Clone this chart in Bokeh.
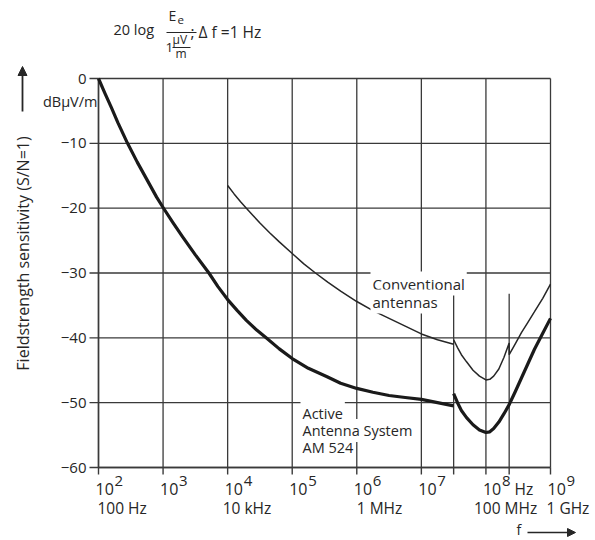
import math
from bokeh.plotting import figure
from bokeh.models import ColumnDataSource, Label, Arrow, NormalHead, Range1d
from bokeh.core.properties import value
from bokeh.embed import file_html
from bokeh.resources import INLINE

# ---------------- data (x given as log10 of frequency in Hz) ----------------
decade_exps = [2, 3, 4, 5, 6, 7, 8, 9]
band_marks_logf = [7.5, 8.36]          # extra boundary marks (about 30 MHz and 230 MHz)
band_mark_top_db = -33.2
y_ticks = [0, -10, -20, -30, -40, -50, -60]
y_tick_labels = ["0", "−10", "−20", "−30", "−40", "−50", "−60"]
unit_labels = ["100 Hz", "10 kHz", "1 MHz", "100 MHz", "1 GHz"]
unit_label_exps = [2, 4, 6, 8, 9]

active_logf_1 = [2.0, 2.1, 2.2, 2.3, 2.45, 2.6, 2.75, 2.9, 3.0, 3.15, 3.3, 3.5, 3.71,
                 3.85, 4.0, 4.15, 4.29, 4.45, 4.61, 4.8, 5.0, 5.25, 5.54, 5.75, 6.0,
                 6.25, 6.5, 6.75, 7.0, 7.25, 7.5]
active_db_1 = [0.0, -2.3, -4.5, -6.8, -10.0, -12.9, -15.6, -18.3, -19.9, -22.2, -24.4,
               -27.2, -30.0, -32.1, -34.1, -35.8, -37.3, -38.8, -40.1, -41.7, -43.2,
               -44.7, -46.0, -47.0, -47.8, -48.4, -48.9, -49.2, -49.5, -50.0, -50.5]
active_logf_2 = [7.5, 7.56, 7.62, 7.7, 7.8, 7.9, 8.0, 8.06, 8.12, 8.2, 8.28, 8.36,
                 8.45, 8.55, 8.65, 8.75, 8.88, 9.0]
active_db_2 = [-48.6, -50.0, -51.2, -52.3, -53.4, -54.2, -54.6, -54.5, -54.0, -53.0,
               -51.7, -50.3, -48.4, -46.2, -44.0, -41.8, -39.3, -37.0]

conv_logf_1 = [4.0, 4.1, 4.2, 4.29, 4.4, 4.5, 4.65, 4.8, 5.0, 5.18, 5.36, 5.55, 5.75,
               6.0, 6.25, 6.5, 6.75, 7.0, 7.25, 7.5]
conv_db_1 = [-16.5, -17.8, -19.0, -20.0, -21.2, -22.3, -23.8, -25.2, -27.0, -28.6,
             -30.0, -31.4, -32.8, -34.4, -35.8, -37.0, -38.2, -39.4, -40.3, -41.0]
conv_logf_2 = [7.5, 7.56, 7.62, 7.7, 7.8, 7.9, 8.0, 8.06, 8.12, 8.2, 8.28, 8.36, 8.36,
               8.45, 8.55, 8.65, 8.75, 8.88, 9.0]
conv_db_2 = [-40.3, -41.5, -42.6, -43.7, -45.0, -45.9, -46.5, -46.4, -45.9, -44.8,
             -43.0, -40.8, -42.6, -41.0, -39.2, -37.6, -36.0, -33.9, -31.7]

# ---------------- layout constants ----------------
W, H = 595, 540
INK = "#262626"
GRID = "#3a3a3a"
FONT = "Open Sans"
FL, FR, FT, FB = 98.0, 550.0, 78.0, 467.0   # plot-area edges in page pixels
DEC_PER_PX = 7.0 / (FR - FL)
DB_PER_PX = 60.0 / (FB - FT)

# the frame covers the whole page; the chart area is the 1e2..1e9 x -60..0 box in it
p = figure(width=W, height=H, x_axis_type="log",
           x_range=Range1d(10 ** (2 - FL * DEC_PER_PX), 10 ** (2 + (W - FL) * DEC_PER_PX)),
           y_range=Range1d(-(H - FT) * DB_PER_PX, FT * DB_PER_PX),
           x_axis_location=None, y_axis_location=None,
           output_backend="svg", toolbar_location=None, min_border=0,
           background_fill_color="white", border_fill_color="white")
p.outline_line_color = None
p.xgrid.visible = False
p.ygrid.visible = False


def dx(px):
    return 10.0 ** (2 + (px - FL) * DEC_PER_PX)


def dy(py):
    return -(py - FT) * DB_PER_PX


decades = [10.0 ** e for e in decade_exps]
marks = [10.0 ** e for e in band_marks_logf]
x_min, x_max = decades[0], decades[-1]
y_min, y_max = min(y_ticks), max(y_ticks)

# grid (also forms the top and right border)
p.segment(x0=decades, y0=[y_min] * len(decades), x1=decades, y1=[y_max] * len(decades),
          line_color=GRID, line_width=1.3)
p.segment(x0=[x_min] * len(y_ticks), y0=y_ticks, x1=[x_max] * len(y_ticks), y1=y_ticks,
          line_color=GRID, line_width=1.3)
# band boundary marks
p.segment(x0=marks, y0=[band_mark_top_db] * len(marks), x1=marks,
          y1=[y_min] * len(marks), line_color=GRID, line_width=1.3)

# axis lines and ticks
p.segment(x0=[x_min], y0=[y_min], x1=[x_min], y1=[y_max], line_color=GRID, line_width=1.5)
p.segment(x0=[x_min], y0=[y_min], x1=[x_max], y1=[y_min], line_color=GRID, line_width=1.5)
xt = decades + marks
p.segment(x0=xt, y0=[y_min] * len(xt), x1=xt, y1=[y_min - 7 * DB_PER_PX] * len(xt),
          line_color=GRID, line_width=1.4)
p.segment(x0=[x_min * 10 ** (-9 * DEC_PER_PX)] * len(y_ticks), y0=y_ticks,
          x1=[x_min] * len(y_ticks), y1=y_ticks, line_color=GRID, line_width=1.4)

# curves
p.line([10.0 ** v for v in conv_logf_1], conv_db_1, line_color=INK, line_width=1.5)
p.line([10.0 ** v for v in conv_logf_2], conv_db_2, line_color=INK, line_width=1.5)
p.line([10.0 ** v for v in active_logf_1], active_db_1, line_color="#1a1a1a",
       line_width=3.2, line_join="round")
p.line([10.0 ** v for v in active_logf_2], active_db_2, line_color="#1a1a1a",
       line_width=3.2, line_join="round")

# y tick labels
p.text(x=[x_min] * len(y_ticks), y=y_ticks, text=y_tick_labels, x_offset=-12,
       text_font=value(FONT), text_font_size="15px", text_color=INK,
       text_align="right", text_baseline="middle")

# x tick labels: "10" with raised exponent, and unit names
p.text(x=decades, y=[dy(488)] * len(decades), text=["10"] * len(decades), x_offset=-3,
       text_font=value(FONT), text_font_size="16px", text_color=INK,
       text_align="left", text_baseline="middle")
p.text(x=decades, y=[dy(480)] * len(decades), text=[str(e) for e in decade_exps],
       x_offset=16, text_font=value(FONT), text_font_size="15px", text_color=INK,
       text_align="left", text_baseline="middle")
unit_offsets = [-1, -5, 0, -12, -4]
unit_src = ColumnDataSource(dict(x=[10.0 ** e for e in unit_label_exps], t=unit_labels,
                                 o=unit_offsets))
p.text(x="x", y=dy(507), text="t", x_offset="o", source=unit_src,
       text_font=value(FONT), text_font_size="15.5px", text_color=INK,
       text_align="left", text_baseline="middle")


def lab(text, px, py, size=14, align="left", angle=0.0, bg=None):
    kw = dict(x=dx(px), y=dy(py), text=text, text_font=FONT,
              text_font_size=f"{size}px", text_color=INK,
              text_align=align, text_baseline="middle", angle=angle)
    if bg:
        kw.update(background_fill_color=bg, padding=2)
    p.add_layout(Label(**kw))


def hline(px0, px1, py, width=1.2, head=None):
    p.add_layout(Arrow(x_start=dx(px0), y_start=dy(py), x_end=dx(px1), y_end=dy(py),
                       line_color=INK, line_width=width, end=head))


lab("Hz", 514, 488, size=15.5)
lab("f", 516, 529, size=14)
hline(527, 575, 532, width=1.5, head=NormalHead(size=8, fill_color=INK, line_color=INK))

# y title, unit and arrow
lab("Fieldstrength sensitivity (S/N=1)", 22, 253, size=16, align="center", angle=math.pi / 2)
lab("dBµV/m", 97, 101, size=14.5, align="right")
p.add_layout(Arrow(x_start=dx(22), y_start=dy(111), x_end=dx(22), y_end=dy(66),
                   line_color=INK, line_width=1.8,
                   end=NormalHead(size=9, fill_color=INK, line_color=INK)))

# formula at top
lab("20 log", 113, 29, size=14.5)
lab("E", 168, 15, size=14)
lab("e", 177, 19, size=11.5)
hline(166, 196, 32, width=1.2)
lab("1", 165, 47, size=13.5)
lab("µV", 172, 39, size=12)
hline(172, 190, 47, width=1.0)
lab("m", 175, 53, size=12)
lab("; Δ f =1 Hz", 190, 31, size=15.5)

# curve annotations
lab("Conventional", 370, 283, size=15, bg="white")
lab("antennas", 370, 301, size=15, bg="white")
lab("Active", 300, 413, size=14.5, bg="white")
lab("Antenna System", 300, 430, size=14.5, bg="white")
lab("AM 524", 300, 447, size=14.5, bg="white")

open("out.html", "w").write(file_html(p, INLINE))
